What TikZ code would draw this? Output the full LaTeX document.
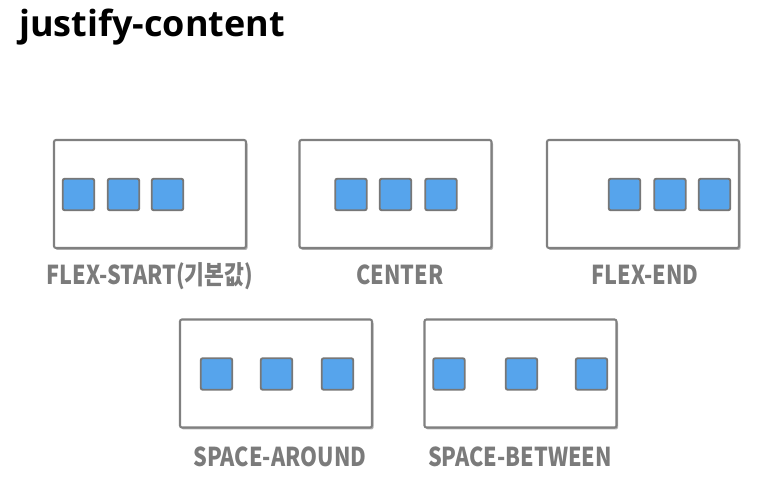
\documentclass[tikz,border=0pt]{standalone}
\usepackage{fontspec}
\usetikzlibrary{shadows}
\newfontfamily\titlefont{Open Sans}
\newfontfamily\labelfont{Noto Sans CJK KR}[FakeStretch=0.83]
\definecolor{boxline}{HTML}{808080}
\definecolor{sqfill}{HTML}{56A4EC}
\definecolor{sqline}{HTML}{777777}
\definecolor{labelgray}{HTML}{7B7B7B}
\tikzset{
  container/.style={draw=boxline, line width=2.1pt, fill=white, rounded corners=2pt,
    minimum width=192pt, minimum height=108pt, inner sep=0pt,
    drop shadow={shadow xshift=1.5pt, shadow yshift=-2pt, opacity=0.3, fill=black}},
  item/.style={draw=sqline, line width=1.9pt, fill=sqfill, rounded corners=2pt,
    minimum size=31.5pt, inner sep=0pt},
  caption/.style={text=labelgray, font=\labelfont\bfseries\fontsize{26}{26}\selectfont, anchor=base, inner sep=0pt},
}
\begin{document}
\begin{tikzpicture}[x=1pt,y=-1pt]
\useasboundingbox (0,0) rectangle (761,486);
\node[anchor=base west, inner sep=0pt, font=\titlefont\bfseries\fontsize{36}{36}\selectfont] (title) at (19,37) {justify-content};
% containers
\node[container] (b1) at (150,194) {};
\node[container] (b2) at (395.5,194) {};
\node[container] (b3) at (643,194) {};
\node[container] (b4) at (276,373.5) {};
\node[container] (b5) at (520.5,373.5) {};
% items
\node[item] (s11) at (78.5,194.5) {};
\node[item] (s12) at (123.5,194.5) {};
\node[item] (s13) at (167.5,194.5) {};
\node[item] (s21) at (351,194.5) {};
\node[item] (s22) at (395.5,194.5) {};
\node[item] (s23) at (441,194.5) {};
\node[item] (s31) at (624.5,194.5) {};
\node[item] (s32) at (670,194.5) {};
\node[item] (s33) at (714.5,194.5) {};
\node[item] (s41) at (216.5,374) {};
\node[item] (s42) at (276.5,374) {};
\node[item] (s43) at (337.5,374) {};
\node[item] (s51) at (449,374) {};
\node[item] (s52) at (521.5,374) {};
\node[item] (s53) at (591.5,374) {};
% labels
\node[caption] (l1) at (150,285) {FLEX-START(기본값)};
\node[caption] (l2) at (400,285) {CENTER};
\node[caption] (l3) at (645,285) {FLEX-END};
\node[caption] (l4) at (280,467) {SPACE-AROUND};
\node[caption] (l5) at (520,467) {SPACE-BETWEEN};
\end{tikzpicture}
\end{document}
